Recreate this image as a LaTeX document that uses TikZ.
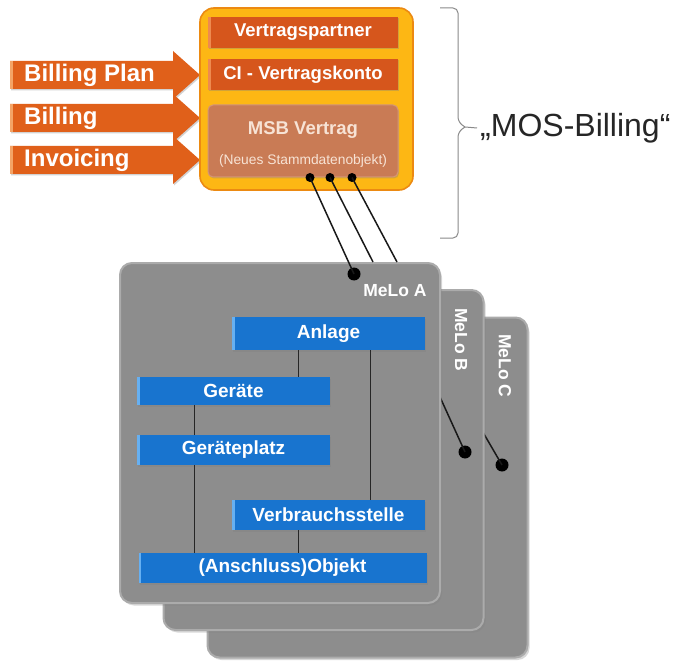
\documentclass[tikz,border=0pt]{standalone}
\usepackage{fontspec}
\setmainfont{Liberation Sans}
\usepackage{tikz}
\usetikzlibrary{positioning, calc, shadows}
\definecolor{billorange}{HTML}{E0601A}
\definecolor{billstripe}{HTML}{F4A466}
\definecolor{mosgold}{HTML}{FDB714}
\definecolor{mosrim}{HTML}{EC8A12}
\definecolor{mosbox}{HTML}{D6561C}
\definecolor{mosstripe}{HTML}{EE8A50}
\definecolor{msbbrown}{HTML}{C97B55}
\definecolor{msbtext}{HTML}{F7E3D5}
\definecolor{melogray}{HTML}{8D8D8D}
\definecolor{melorim}{HTML}{ABABAB}
\definecolor{objblue}{HTML}{1874CF}
\definecolor{objstripe}{HTML}{66B0F2}
\definecolor{bracegray}{HTML}{8A8A8A}
\tikzset{
  softshadow/.style = {drop shadow={shadow xshift=1pt, shadow yshift=-1.5pt, opacity=0.35}},
  mosframe/.style   = {rectangle, rounded corners=14pt, draw=mosrim, line width=1.6pt, fill=mosgold,
                       minimum width=213pt, minimum height=182pt},
  mositem/.style    = {rectangle, fill=mosbox, text=white, font=\fontsize{18.5}{20}\selectfont\bfseries,
                       minimum width=190pt, minimum height=31pt, inner sep=0pt, softshadow,
                       path picture={\fill[mosstripe] (path picture bounding box.south west)
                         rectangle ([xshift=2.5pt]path picture bounding box.north west);}},
  msbitem/.style    = {rectangle, rounded corners=5pt, fill=msbbrown, draw=msbbrown!80!white,
                       line width=1pt, minimum width=190pt, minimum height=72pt, inner sep=0pt, softshadow},
  msbtitle/.style   = {text=msbtext, font=\fontsize{18.5}{20}\selectfont\bfseries, inner sep=0pt},
  msbsub/.style     = {text=msbtext, font=\fontsize{13.8}{15}\selectfont, inner sep=0pt},
  billtext/.style   = {text=white, font=\fontsize{24}{26}\selectfont\bfseries, inner sep=0pt, anchor=west},
  melocard/.style   = {rectangle, rounded corners=12pt, fill=melogray, draw=melorim, line width=2pt,
                       minimum width=320pt, minimum height=340pt,
                       drop shadow={shadow xshift=2pt, shadow yshift=-2.5pt, opacity=0.3}},
  melolabel/.style  = {text=white, font=\fontsize{17.5}{19}\selectfont\bfseries, inner sep=0pt},
  objbox/.style     = {rectangle, fill=objblue, text=white, font=\fontsize{19}{21}\selectfont\bfseries,
                       minimum width=193pt, minimum height=30pt, inner sep=0pt, softshadow,
                       path picture={\fill[objstripe] (path picture bounding box.south west)
                         rectangle ([xshift=2.5pt]path picture bounding box.north west);}},
  tree/.style       = {draw=black!85, line width=0.9pt},
  link/.style       = {draw=black!90, line width=1.5pt},
  pin/.style        = {circle, fill=black, inner sep=0pt, minimum size=9pt},
  bigpin/.style     = {circle, fill=black, inner sep=0pt, minimum size=13pt},
  brace/.style      = {draw=bracegray, line width=1pt, rounded corners=5pt},
}
\begin{document}
\begin{tikzpicture}[x=1pt, y=-1pt]
    \path[use as bounding box, fill=white] (0,0) rectangle (677,663);

    % -- Incoming processes (arrows) ------------------------------
    \foreach \ay/\atext/\aname in {75/Billing Plan/plan, 118/Billing/bill, 160/Invoicing/inv}{
      \fill[billorange, softshadow] (10,\ay-14) -- (173,\ay-14) -- (173,\ay-24) -- (200,\ay)
        -- (173,\ay+24) -- (173,\ay+14) -- (10,\ay+14) -- cycle;
      \fill[billstripe] (10,\ay-14) rectangle (13,\ay+14);
      \node[billtext] (\aname) at (24,\ay) {\atext};
    }

    % -- MOS-Billing container ------------------------------------
    \node[mosframe] (mos) at (306.5,99) {};
    \node[mositem] (partner) at (303,32.5) {Vertragspartner};
    \node[mositem] (konto)   at (303,74.5) {CI - Vertragskonto};
    \node[msbitem] (msb)     at (303,141) {};
    \node[msbtitle] (msbname) at (303,130) {MSB Vertrag};
    \node[msbsub]   (msbnote) at (303,161) {(Neues Stammdatenobjekt)};

    % -- Brace and caption ----------------------------------------
    \coordinate (bracetip) at (465,127);
    \node[anchor=west, inner sep=0pt, text=black!85, font=\fontsize{32}{34}\selectfont]
      (mostext) at (480,128) {„MOS-Billing“};
    \draw[brace] (440,8) -- (458,8) -- (458,122) -- (bracetip);
    \draw[brace] (440,238) -- (458,238) -- (458,132) -- (bracetip);
    \draw[bracegray, line width=1pt] (bracetip) -- ([xshift=-3pt]mostext.west);

    % -- Market locations (stacked cards) -------------------------
    \node[melocard] (meloC) at (367.5,487.5) {};
    \node[melolabel, rotate=-90] (labelC) at (505,366) {MeLo C};
    \node[bigpin] (pinC) at (502,465) {};
    \draw[link] (pinC.center) -- ++(-25,-43);

    \node[melocard] (meloB) at (323.5,460) {};
    \node[melolabel, rotate=-90] (labelB) at (461,340) {MeLo B};
    \node[bigpin] (pinB) at (465,452) {};
    \draw[link] (pinB.center) -- ++(-30,-66);

    \node[melocard] (meloA) at (280,433) {};
    \node[melolabel] (labelA) at (395,291) {MeLo A};
    \node[bigpin] (pinA) at (354,274) {};

    % -- Links from the contract to the cards ---------------------
    \node[pin] (pin1) at ([xshift=7pt]msb.south) {};
    \node[pin] (pin2) at ([xshift=27pt]msb.south) {};
    \node[pin] (pin3) at ([xshift=49pt]msb.south) {};
    \draw[link] (pin1.center) -- (pinA.center);
    \draw[link] (pin2.center) -- ([xshift=93pt]meloA.north);
    \draw[link] (pin3.center) -- ([xshift=117pt]meloA.north);

    % -- Objects inside MeLo A ------------------------------------
    \node[objbox, minimum height=33pt] (anlage) at (328.5,333.5) {Anlage};
    \node[objbox, minimum height=28pt] (geraete) at (233.5,391) {Geräte};
    \node[objbox] (platz)    at (233.5,450) {Geräteplatz};
    \node[objbox] (verbrauch) at (328.5,515) {Verbrauchsstelle};
    \node[objbox, minimum width=288pt] (objekt) at (282.5,568) {(Anschluss)Objekt};

    \draw[tree] ([xshift=-30pt]anlage.south) -- ([xshift=-30pt]anlage.south |- geraete.north);
    \draw[tree] ([xshift=41.5pt]anlage.south) -- ([xshift=41.5pt]verbrauch.north);
    \draw[tree] ([xshift=-39.5pt]geraete.south) -- ([xshift=-39.5pt]platz.north);
    \draw[tree] ([xshift=-39.5pt]platz.south) -- ([xshift=-39.5pt]platz.south |- objekt.north);
    \draw[tree] ([xshift=-30pt]verbrauch.south) -- ([xshift=-30pt]verbrauch.south |- objekt.north);
\end{tikzpicture}
\end{document}
